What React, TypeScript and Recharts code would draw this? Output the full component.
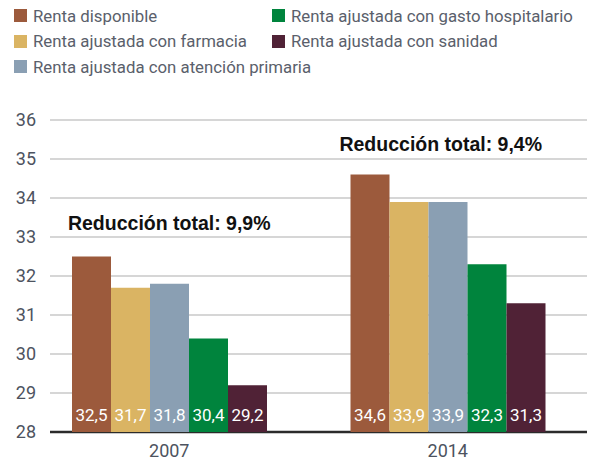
import React from 'react'
import { BarChart, Bar, XAxis, YAxis, CartesianGrid, LabelList, ReferenceDot } from 'recharts'

const years = ['2007', '2014']
const rentaDisponible = [32.5, 34.6]
const rentaFarmacia = [31.7, 33.9]
const rentaPrimaria = [31.8, 33.9]
const rentaHospital = [30.4, 32.3]
const rentaSanidad = [29.2, 31.3]
const yTicks = [28, 29, 30, 31, 32, 33, 34, 35, 36]
const reducciones = ['Reducción total: 9,9%', 'Reducción total: 9,4%']
const reduccionY = [33.35, 35.38]
const reduccionDx = [0, -7]

const series = [
  { key: 'disp', name: 'Renta disponible', color: '#9c5a3c', values: rentaDisponible },
  { key: 'farm', name: 'Renta ajustada con farmacia', color: '#dab463', values: rentaFarmacia },
  { key: 'prim', name: 'Renta ajustada con atención primaria', color: '#8a9fb3', values: rentaPrimaria },
  { key: 'hosp', name: 'Renta ajustada con gasto hospitalario', color: '#00843d', values: rentaHospital },
  { key: 'sani', name: 'Renta ajustada con sanidad', color: '#502236', values: rentaSanidad },
]

const data = years.map((y, i) => {
  const row: Record<string, string | number> = { year: y }
  series.forEach((s) => {
    row[s.key] = s.values[i]
  })
  return row
})

if (typeof document !== 'undefined') {
  document.body.style.margin = '0'
  document.body.style.overflow = 'hidden'
}

const FONT = 'Roboto, sans-serif'
const GREY = '#4d5360'

function YTick(props: any) {
  const { y, payload } = props
  return (
    <text x={36} y={y} dy={6} textAnchor="end" fill={GREY} fontSize={18} fontFamily={FONT}>
      {payload.value}
    </text>
  )
}

function XTick(props: any) {
  const { x, payload } = props
  return (
    <text x={x} y={457} textAnchor="middle" fill={GREY} fontSize={18} fontFamily={FONT}>
      {payload.value}
    </text>
  )
}

function GridLine(props: any) {
  const { x1, x2, y1, y2, index } = props
  const isBase = index === 0
  return (
    <line
      x1={x1}
      x2={x2}
      y1={y1}
      y2={y2}
      stroke={isBase ? '#2b2b2b' : '#c9c9c9'}
      strokeWidth={isBase ? 2.5 : 1.5}
    />
  )
}

function InsideLabel(props: any) {
  const { x, y, width, height, value } = props
  return (
    <text
      x={x + width / 2}
      y={y + height - 11}
      textAnchor="middle"
      fill="#ffffff"
      fontSize={17}
      fontFamily={FONT}
    >
      {String(value).replace('.', ',')}
    </text>
  )
}

function Legend() {
  const col = (items: typeof series) => (
    <div>
      {items.map((s) => (
        <div key={s.key} style={{ display: 'flex', alignItems: 'center', height: 25.5 }}>
          <span
            style={{ width: 13, height: 13, flexShrink: 0, background: s.color, marginRight: 6, display: 'inline-block' }}
          />
          <span style={{ fontSize: 16.8, color: '#5a606b', fontFamily: FONT, whiteSpace: 'nowrap' }}>{s.name}</span>
        </div>
      ))}
    </div>
  )
  return (
    <div style={{ position: 'absolute', left: 14, top: 3, display: 'flex' }}>
      <div style={{ width: 258, flexShrink: 0 }}>{col(series.slice(0, 3))}</div>
      {col(series.slice(3))}
    </div>
  )
}

export default function App() {
  return (
    <div style={{ position: 'relative', width: 589, height: 460, background: '#fff', overflow: 'hidden' }}>
      <Legend />
      <BarChart
        width={589}
        height={460}
        data={data}
        margin={{ top: 120, right: 2, bottom: 0, left: 0 }}
        barGap={0}
        barSize={39}
      >
        <CartesianGrid x={50} width={537} vertical={false} horizontal={<GridLine />} />
        <YAxis
          width={30}
          domain={[28, 36]}
          ticks={yTicks}
          interval={0}
          axisLine={false}
          tickLine={false}
          tick={<YTick />}
        />
        <XAxis dataKey="year" height={28} axisLine={false} tickLine={false} tick={<XTick />} />
        {series.map((s) => (
          <Bar key={s.key} dataKey={s.key} name={s.name} fill={s.color} isAnimationActive={false}>
            <LabelList dataKey={s.key} content={<InsideLabel />} />
          </Bar>
        ))}
        {years.map((y, i) => (
          <ReferenceDot
            key={y}
            x={y}
            y={reduccionY[i]}
            r={0}
            fill="none"
            stroke="none"
            label={{
              value: reducciones[i],
              position: 'center',
              dx: reduccionDx[i],
              fill: '#111',
              fontSize: 19.5,
              fontWeight: 'bold',
              fontFamily: '"Liberation Sans", Arial, sans-serif',
            }}
          />
        ))}
      </BarChart>
    </div>
  )
}
